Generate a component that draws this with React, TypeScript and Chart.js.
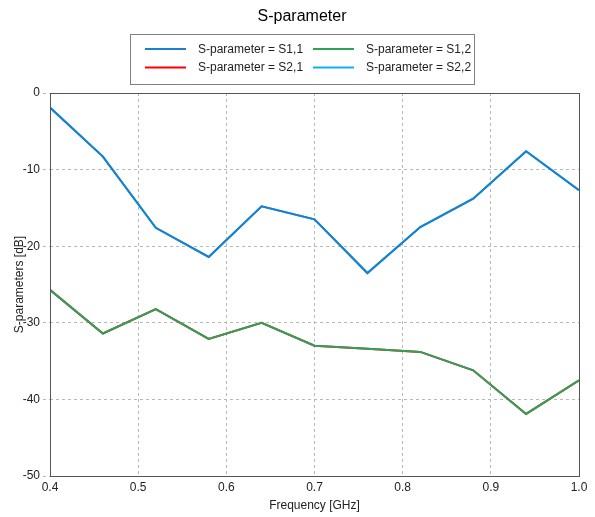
import React, { useEffect, useRef } from 'react';
import { Chart, registerables } from 'chart.js';

Chart.register(...registerables);

const chartTitle = 'S-parameter';
const xAxisTitle = 'Frequency [GHz]';
const yAxisTitle = 'S-parameters [dB]';

const frequencies = [0.4, 0.46, 0.52, 0.58, 0.64, 0.7, 0.76, 0.82, 0.88, 0.94, 1.0];
const s11 = [-1.9, -8.3, -17.6, -21.4, -14.8, -16.5, -23.5, -17.5, -13.8, -7.6, -12.7];
const s12 = [-25.7, -31.4, -28.2, -32.1, -30.0, -33.0, -33.4, -33.8, -36.2, -41.9, -37.5];
const s21 = [-25.7, -31.4, -28.2, -32.1, -30.0, -33.0, -33.4, -33.8, -36.2, -41.9, -37.5];
const s22 = [-1.9, -8.3, -17.6, -21.4, -14.8, -16.5, -23.5, -17.5, -13.8, -7.6, -12.7];

const seriesLabels = ['S-parameter = S1,1', 'S-parameter = S1,2', 'S-parameter = S2,1', 'S-parameter = S2,2'];
const seriesValues = [s11, s12, s21, s22];
const seriesColors = ['#1a7fcd', '#2ca35a', '#ff0000', '#12aff0'];

const FONT = "'Liberation Sans', Arial, sans-serif";

const framePlugin = {
  id: 'frameAndLegend',
  afterDraw(chart: any) {
    const ctx = chart.ctx;
    const a = chart.chartArea;
    ctx.save();
    // plot frame
    ctx.strokeStyle = '#555555';
    ctx.lineWidth = 1;
    ctx.strokeRect(Math.round(a.left) + 0.5, Math.round(a.top) + 0.5, Math.round(a.right - a.left), Math.round(a.bottom - a.top));

    // title
    const cx = 302;
    ctx.fillStyle = '#000000';
    ctx.font = `16px ${FONT}`;
    ctx.textAlign = 'center';
    ctx.textBaseline = 'alphabetic';
    ctx.fillText(chartTitle, cx, 21);

    // legend frame
    const fw = 344;
    const fl = cx - fw / 2;
    const ft = 34.5;
    const fh = 50;
    ctx.strokeStyle = '#808080';
    ctx.lineWidth = 1;
    ctx.strokeRect(Math.round(fl) + 0.5, ft, fw, fh);

    ctx.font = `12px ${FONT}`;
    ctx.textAlign = 'left';
    ctx.textBaseline = 'middle';
    const colX = [fl + 15, fl + 183];
    const rowY = [49, 67.5];
    chart.data.datasets.forEach((ds: any, i: number) => {
      const x = colX[i % 2];
      const y = rowY[Math.floor(i / 2)];
      ctx.strokeStyle = ds.borderColor;
      ctx.lineWidth = 2;
      ctx.beginPath();
      ctx.moveTo(x, y);
      ctx.lineTo(x + 41, y);
      ctx.stroke();
      ctx.fillStyle = '#222222';
      ctx.fillText(ds.label, x + 53, y + 0.5);
    });
    ctx.restore();
  },
};

export default function App() {
  const ref = useRef<HTMLCanvasElement | null>(null);

  useEffect(() => {
    document.body.style.margin = '0';
    if (!ref.current) return;
    Chart.defaults.font.family = FONT;
    const datasets = seriesLabels.map((label, i) => ({
      label,
      data: frequencies.map((f, j) => ({ x: f, y: seriesValues[i][j] })),
      borderColor: seriesColors[i],
      backgroundColor: seriesColors[i],
      borderWidth: 2,
      pointRadius: 0,
      tension: 0,
      fill: false,
    }));
    const chart = new Chart(ref.current, {
      type: 'line',
      data: { datasets },
      options: {
        animation: false,
        responsive: true,
        maintainAspectRatio: false,
        layout: { padding: { top: 93, right: 16, left: 0, bottom: 0 } },
        plugins: {
          legend: { display: false },
          title: { display: false },
          tooltip: { enabled: false },
        },
        scales: {
          x: {
            type: 'linear',
            min: 0.4,
            max: 1.0,
            afterFit: (s: any) => { s.height = 41; },
            ticks: {
              stepSize: 0.1,
              callback: (v: any) => Number(v).toFixed(1),
              color: '#222222',
              font: { size: 12 },
              padding: 4,
              maxRotation: 0,
            },
            grid: { color: '#b8b8b8', drawTicks: false },
            border: { display: false, dash: [3, 3] },
            title: { display: true, text: xAxisTitle, color: '#222222', font: { size: 12 }, padding: { top: 0, bottom: 4 } },
          },
          y: {
            min: -50,
            max: 0,
            afterFit: (s: any) => { s.width = 50; },
            ticks: { stepSize: 10, color: '#222222', font: { size: 12 }, padding: 3 },
            grid: { color: '#b8b8b8', tickBorderDash: [3, 3], tickLength: 7, drawTicks: true },
            border: { display: false, dash: [3, 3] },
            title: { display: true, text: yAxisTitle, color: '#222222', font: { size: 12 }, padding: { top: 12, bottom: 0 } },
          },
        },
      },
      plugins: [framePlugin],
    });
    return () => chart.destroy();
  }, []);

  return (
    <div style={{ position: 'absolute', left: 0, top: 0, width: 595, height: 517 }}>
      <canvas ref={ref} />
    </div>
  );
}
